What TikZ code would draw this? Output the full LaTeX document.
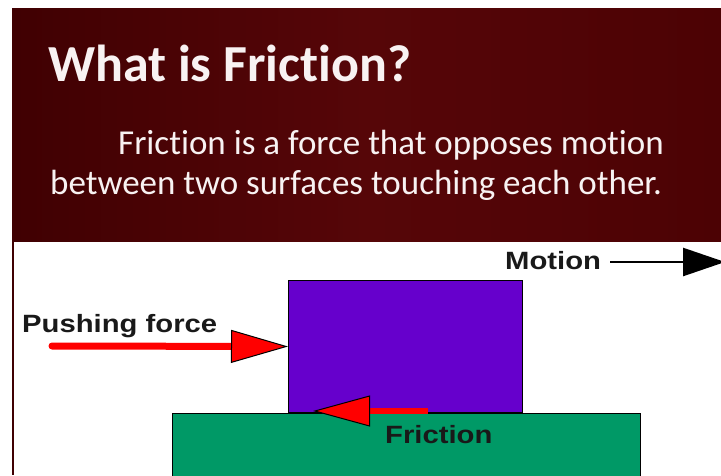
\documentclass[tikz,border=0pt]{standalone}
\usepackage{fontspec}
\setmainfont{Carlito}[Ligatures=NoCommon]
\newfontfamily\labelfont{Liberation Sans}
\usetikzlibrary{arrows.meta}
\definecolor{bgdark}{RGB}{64,0,2}
\definecolor{bgmid}{RGB}{86,6,8}
\definecolor{bgright}{RGB}{76,2,4}
\definecolor{titlewhite}{RGB}{248,242,242}
\definecolor{blockpurple}{RGB}{102,0,204}
\definecolor{groundgreen}{RGB}{0,153,102}
\definecolor{forcered}{RGB}{255,0,0}
\definecolor{labelblack}{RGB}{25,25,25}
\tikzset{
  titletext/.style={anchor=base west, inner sep=0pt, text=titlewhite, font=\fontsize{52}{60}\selectfont\bfseries},
  bodytext/.style={anchor=base west, inner sep=0pt, text=titlewhite, font=\fontsize{35}{42}\selectfont},
  labeltext/.style={anchor=base west, inner sep=0pt, text=labelblack, font=\labelfont\bfseries\fontsize{25}{30}\selectfont},
  solidbox/.style={draw=black, line width=1pt, inner sep=0pt, anchor=north west},
  redforce/.style={draw=forcered, line cap=round, line width=#1},
  bigtip/.style n args={2}{-{Triangle[length=#1, width=#2, line width=1pt, fill=forcered, color=black]}}
}
\newcommand{\wide}[1]{\scalebox{1.17}[1]{#1}}
\begin{document}
\begin{tikzpicture}[x=1pt,y=-1pt]
\useasboundingbox (0,0) rectangle (721,475);
\clip (0,0) rectangle (721,475);
\fill[white] (0,0) rectangle (721,475);
% dark red header panel
\shade[left color=bgdark, right color=bgright, middle color=bgmid] (12,8) rectangle (721,241);
\draw[line width=1.5pt, draw=bgdark] (12.75,241) -- (12.75,475);
% texts of header
\node[titletext] (title) at (48,81) {What is Friction?};
\node[bodytext] (body1) at (118,154) {Friction is a force that opposes motion};
\node[bodytext] (body2) at (50,194) {between two surfaces touching each other.};
% ground and block
\node[solidbox, fill=groundgreen, minimum width=468pt, minimum height=90pt] (ground) at (172,413) {};
\node[solidbox, fill=blockpurple, minimum width=234pt, minimum height=132pt] (block) at (288,280) {};
% labels
\node[labeltext] (pushlabel) at (22,332) {\wide{Pushing force}};
\node[labeltext] (motionlabel) at (505,269) {\wide{Motion}};
\node[labeltext] (frictionlabel) at (385,443) {\wide{Friction}};
% pushing force arrow
\coordinate (pstart) at (52,346);
\draw[redforce=7pt, bigtip={57pt}{33pt}] (pstart) -- (block.west);
% friction arrow
\coordinate (fstart) at (428,411);
\coordinate (ftip) at (313,411);
\draw[redforce=6pt, line cap=butt, bigtip={57pt}{31pt}] (fstart) -- (ftip);
% motion arrow
\coordinate (mstart) at (610,262);
\coordinate (mtip) at (725,262);
\draw[line width=2.5pt, -{Triangle[length=42pt, width=28pt]}] (mstart) -- (mtip);
\end{tikzpicture}
\end{document}
